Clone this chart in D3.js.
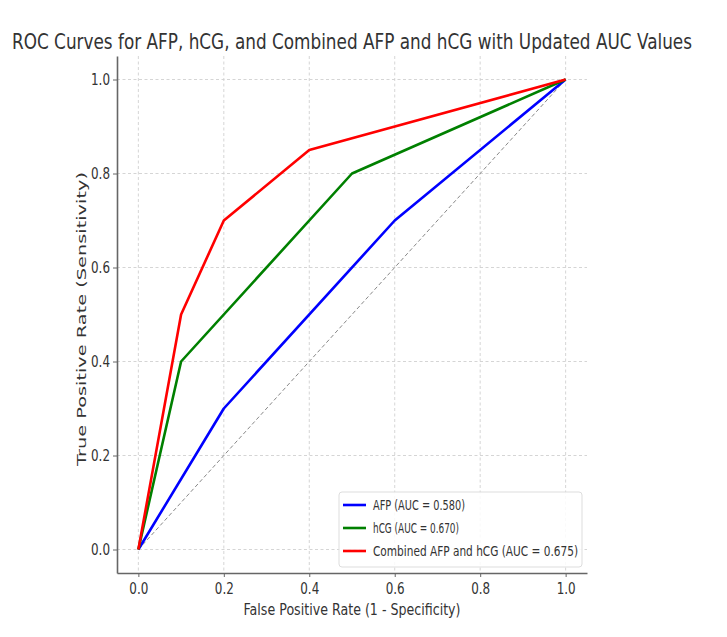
<!DOCTYPE html>
<html>
<head>
<meta charset="utf-8">
<script src="https://cdn.jsdelivr.net/npm/d3@7"></script>
<style>
  body { margin: 0; background: #fff; }
  text { font-family: "DejaVu Sans", sans-serif; fill: #333; }
</style>
</head>
<body>
<svg id="chart" width="727" height="637"></svg>
<script>
// ROC points
var afpX = [0, 0.2, 0.6, 1.0],
    afpY = [0, 0.3, 0.7, 1.0];
var hcgX = [0, 0.1, 0.5, 1.0],
    hcgY = [0, 0.4, 0.8, 1.0];
var combX = [0, 0.1, 0.2, 0.4, 1.0],
    combY = [0, 0.5, 0.7, 0.85, 1.0];
var seriesNames = ["AFP (AUC = 0.580)", "hCG (AUC = 0.670)", "Combined AFP and hCG (AUC = 0.675)"];
var seriesColors = ["#0000ff", "#008000", "#ff0000"];
var tickVals = [0, 0.2, 0.4, 0.6, 0.8, 1.0];

var svg = d3.select("#chart");

var pLeft = 117, pRight = 587, pTop = 56, pBottom = 573;

var x = d3.scaleLinear().domain([-0.05, 1.05]).range([pLeft, pRight]);
var y = d3.scaleLinear().domain([-0.05, 1.05]).range([pBottom, pTop]);

// grid
var grid = svg.append("g");
grid.selectAll(".gx").data(tickVals).enter().append("line")
    .attr("x1", d => x(d)).attr("x2", d => x(d))
    .attr("y1", pTop).attr("y2", pBottom);
grid.selectAll(".gy").data(tickVals).enter().append("line")
    .attr("y1", d => y(d)).attr("y2", d => y(d))
    .attr("x1", pLeft).attr("x2", pRight);
grid.selectAll("line")
    .attr("stroke", "#d0d0d0")
    .attr("stroke-width", 0.9)
    .attr("stroke-dasharray", "3,2.5");

// chance line
svg.append("line")
    .attr("x1", x(0)).attr("y1", y(0))
    .attr("x2", x(1)).attr("y2", y(1))
    .attr("stroke", "#888")
    .attr("stroke-width", 1)
    .attr("stroke-dasharray", "4,2.5");

var line = d3.line().x(d => x(d[0])).y(d => y(d[1]));
var series = [d3.zip(afpX, afpY), d3.zip(hcgX, hcgY), d3.zip(combX, combY)];

svg.selectAll(".roc").data(series).enter().append("path")
    .attr("d", line)
    .attr("fill", "none")
    .attr("stroke", (d, i) => seriesColors[i])
    .attr("stroke-width", 2.6)
    .attr("stroke-linejoin", "round");

// axes
var fmt = d3.format(".1f");
var xAxis = svg.append("g")
    .attr("transform", "translate(0," + pBottom + ")")
    .call(d3.axisBottom(x).tickValues(tickVals).tickFormat(fmt).tickSize(4).tickSizeOuter(0));
var yAxis = svg.append("g")
    .attr("transform", "translate(" + pLeft + ",0)")
    .call(d3.axisLeft(y).tickValues(tickVals).tickFormat(fmt).tickSize(4).tickSizeOuter(0));

[xAxis, yAxis].forEach(function(a) {
  a.select(".domain").attr("stroke", "#666").attr("stroke-width", 1.6);
  a.selectAll(".tick line").attr("stroke", "#666").attr("stroke-width", 1);
  a.selectAll(".tick text")
      .style("font-family", "DejaVu Sans, sans-serif")
      .style("font-size", "15px")
      .attr("fill", "#333")
      .attr("textLength", 19)
      .attr("lengthAdjust", "spacingAndGlyphs");
});
xAxis.selectAll(".tick text").attr("dy", "0.95em");
yAxis.selectAll(".tick text").attr("x", -7);

// title and labels
svg.append("text")
    .attr("x", 352).attr("y", 49)
    .attr("text-anchor", "middle")
    .attr("font-size", 21)
    .attr("textLength", 680)
    .attr("lengthAdjust", "spacingAndGlyphs")
    .text("ROC Curves for AFP, hCG, and Combined AFP and hCG with Updated AUC Values");

svg.append("text")
    .attr("x", 352).attr("y", 615)
    .attr("text-anchor", "middle")
    .attr("font-size", 16)
    .attr("textLength", 217)
    .attr("lengthAdjust", "spacingAndGlyphs")
    .text("False Positive Rate (1 - Specificity)");

svg.append("text")
    .attr("transform", "translate(86,319) rotate(-90)")
    .attr("text-anchor", "middle")
    .attr("font-size", 13)
    .attr("textLength", 294)
    .attr("lengthAdjust", "spacingAndGlyphs")
    .text("True Positive Rate (Sensitivity)");

// legend
var lg = svg.append("g");
lg.append("rect")
    .attr("x", 339).attr("y", 492)
    .attr("width", 243).attr("height", 75)
    .attr("rx", 3)
    .attr("fill", "#fff").attr("fill-opacity", 0.85)
    .attr("stroke", "#ddd");
var lw = [92, 86, 205];
seriesNames.forEach(function(name, i) {
  var yy = 505 + i * 23;
  lg.append("line")
      .attr("x1", 343).attr("x2", 366)
      .attr("y1", yy).attr("y2", yy)
      .attr("stroke", seriesColors[i]).attr("stroke-width", 2.6);
  lg.append("text")
      .attr("x", 373).attr("y", yy + 5)
      .attr("font-size", 14)
      .attr("textLength", lw[i])
      .attr("lengthAdjust", "spacingAndGlyphs")
      .text(name);
});
</script>
</body>
</html>
